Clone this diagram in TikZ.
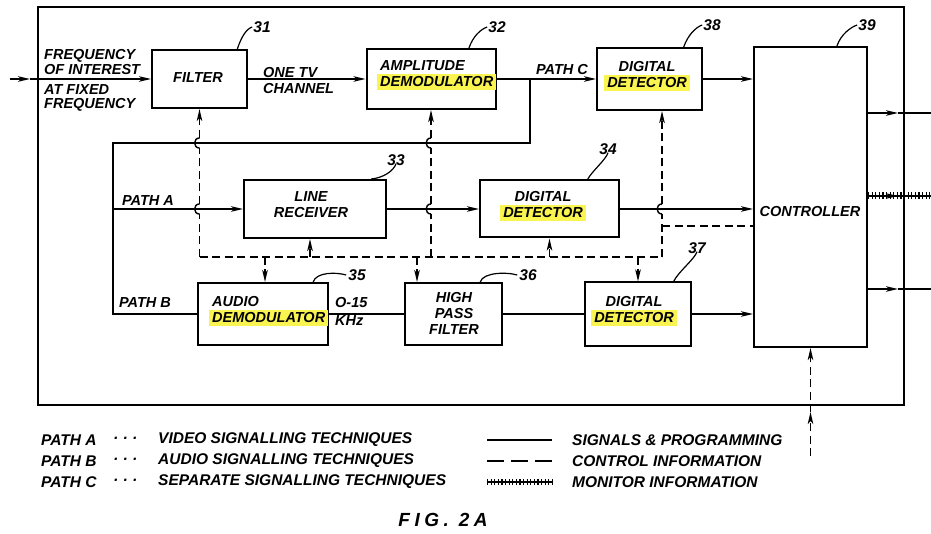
\documentclass[tikz,border=0pt]{standalone}
\usepackage{fontspec}
\setmainfont{Liberation Sans}
\usetikzlibrary{arrows.meta,calc}
\definecolor{hly}{RGB}{250,244,80}
\newsavebox\hlbox
\newcommand\hlt[1]{\sbox\hlbox{#1}\smash{\rlap{\kern-3pt\textcolor{hly}{\rule[-3.5pt]{\dimexpr\wd\hlbox+6pt\relax}{\dimexpr\ht\hlbox+6pt\relax}}}}\usebox\hlbox}
\begin{document}
\begin{tikzpicture}[x=1pt,y=-1pt,
  box/.style={draw, line width=2pt, inner sep=0pt},
  sig/.style={line width=1.4pt},
  ctl/.style={line width=1.7pt, dash pattern=on 8pt off 4.5pt},
  arr/.style={-{Stealth[length=12pt,width=5.5pt,inset=3pt]}},
  lbl/.style={font=\fontsize{14.5}{16}\selectfont\bfseries\itshape, align=center, inner sep=0pt},
  num/.style={font=\fontsize{15.5}{17}\selectfont\bfseries\itshape, inner sep=0pt},
  leg/.style={font=\fontsize{15.5}{18}\selectfont\bfseries\itshape, inner sep=0pt, anchor=west},
  lead/.style={line width=1.2pt},
  mon/.style={line width=1.2pt, postaction={draw, line width=7pt, dash pattern=on 1.1pt off 2.5pt}},
  hop/.style={line width=1.4pt}
]
\useasboundingbox (0,0) rectangle (931,534);
% frame
\node[draw, line width=1.6pt, minimum width=866pt, minimum height=398pt, inner sep=0pt] (frame) at (471,206) {};
% boxes
\node[box, minimum width=95pt, minimum height=58pt] (filter) at (199.5,79) {};
\node[box, minimum width=129pt, minimum height=60pt] (amp) at (431,79) {};
\node[box, minimum width=105pt, minimum height=62pt] (det38) at (649.5,79) {};
\node[box, minimum width=113pt, minimum height=300pt] (ctrl) at (810.5,197) {};
\node[box, minimum width=142pt, minimum height=58pt] (lr) at (315,209) {};
\node[box, minimum width=139pt, minimum height=57pt] (det34) at (549.5,209) {};
\node[box, minimum width=130pt, minimum height=62pt] (aud) at (263,314) {};
\node[box, minimum width=97pt, minimum height=62pt] (hpf) at (453.5,314) {};
\node[box, minimum width=106pt, minimum height=63pt] (det37) at (638,314) {};
% box texts
\node[lbl] (tFilter) at (198,78) {FILTER};
\node[lbl, align=left, anchor=west] (tAmp) at (380,74) {AMPLITUDE\\\hlt{DEMODULATOR}};
\node[lbl] (t38) at (647,74.5) {DIGITAL\\\hlt{DETECTOR}};
\node[lbl] (tCtrl) at (810,212) {CONTROLLER};
\node[lbl] (tLr) at (311,205) {LINE\\RECEIVER};
\node[lbl] (t34) at (543,205) {DIGITAL\\\hlt{DETECTOR}};
\node[lbl, align=left, anchor=west] (tAud) at (212,309.5) {AUDIO\\\hlt{DEMODULATOR}};
\node[lbl] (tHpf) at (454,313.5) {HIGH\\PASS\\FILTER};
\node[lbl] (t37) at (634,309.5) {DIGITAL\\\hlt{DETECTOR}};
% side labels
\node[lbl, align=left, anchor=west] (tIn1) at (44,62.5) {FREQUENCY\\[-1pt]OF INTEREST};
\node[lbl, align=left, anchor=west] (tIn2) at (44,98) {AT FIXED\\[-2pt]FREQUENCY};
\node[lbl, align=left, anchor=west] (tTv) at (263,81) {ONE TV\\CHANNEL};
\node[lbl] (tPC) at (562,70) {PATH C};
\node[lbl] (tPA) at (148,201) {PATH A};
\node[lbl] (tPB) at (145,303) {PATH B};
\node[lbl, align=left, anchor=west] (tKhz) at (335,311) {O-15\\[2pt]KHz};
% signal connectors
\coordinate (in) at (10,79); \coordinate (inm) at (30,79);
\draw[sig,arr] (in) -- (inm);
\draw[sig,arr] (inm) -- (filter.west);
\draw[sig,arr] (filter.east) -- (amp.west);
\draw[sig,arr] (amp.east) -- (det38.west);
\coordinate (bC) at (530,79); \coordinate (cC) at (530,143);
\coordinate (L1) at (113,143); \coordinate (LA) at (113,209); \coordinate (LB) at (113,314);
\draw[sig] (bC) -- (cC) -- (L1) -- (LB) -- (aud.west);
\draw[sig,arr] (LA) -- (lr.west);
\draw[sig,arr] (lr.east) -- (det34.west);
\draw[sig,arr] (det34.east) -- (det34.east -| ctrl.west);
\draw[sig,arr] (det38.east) -- (det38.east -| ctrl.west);
\draw[sig] (aud.east) -- (hpf.west);
\draw[sig] (hpf.east) -- (det37.west);
\draw[sig,arr] (det37.east) -- (det37.east -| ctrl.west);
% controller outputs
\coordinate (o1) at (931,113); \coordinate (o1m) at (898,113);
\coordinate (o2) at (931,196); \coordinate (o2m) at (898,196);
\coordinate (o3) at (931,289); \coordinate (o3m) at (898,289);
\draw[sig,arr] (ctrl.east |- o1) -- (o1m); \draw[sig] (o1m) -- (o1);
\draw[sig,arr] (ctrl.east |- o3) -- (o3m); \draw[sig] (o3m) -- (o3);
\draw[mon] (ctrl.east |- o2) -- (o2);
\draw[sig,arr] (ctrl.east |- o2) -- (o2m);
% bottom control input
\coordinate (cin) at (810.5,456); \coordinate (cinm) at (810.5,412);
\draw[ctl,arr] (cin) -- (cinm);
\draw[ctl,arr] (cinm) -- (ctrl.south);
% control network
\coordinate (vA) at (199.5,257); \coordinate (vB) at (431,257); \coordinate (vC) at (662,257);
\coordinate (k) at (662,226);
\draw[ctl] (vA) -- (vC);
\draw[ctl] (vA) -- (199.5,214);
\draw[hop] (199.5,214) .. controls (193,214) and (193,204) .. (199.5,204);
\draw[ctl] (199.5,204) -- (199.5,148);
\draw[hop] (199.5,148) .. controls (193,148) and (193,138) .. (199.5,138);
\draw[ctl,arr] (199.5,138) -- (filter.south);
\draw[ctl] (vB) -- (431,214);
\draw[hop] (431,214) .. controls (424.5,214) and (424.5,204) .. (431,204);
\draw[ctl] (431,204) -- (431,148);
\draw[hop] (431,148) .. controls (424.5,148) and (424.5,138) .. (431,138);
\draw[ctl,arr] (431,138) -- (amp.south);
\draw[ctl] (vC) -- (662,214);
\draw[hop] (662,214) .. controls (655.5,214) and (655.5,204) .. (662,204);
\draw[ctl,arr] (662,204) -- (det38.south -| vC);
\draw[ctl] (k) -- (k -| ctrl.west);
\coordinate (s1) at (310,257); \draw[ctl,arr] (s1) -- (s1 |- lr.south);
\draw[ctl,arr] (det34.south |- vA) -- (det34.south);
\coordinate (s3) at (265,257); \draw[ctl,arr] (s3) -- (s3 |- aud.north);
\coordinate (s4) at (417,257); \draw[ctl,arr] (s4) -- (s4 |- hpf.north);
\draw[ctl,arr] (det37.north |- vA) -- (det37.north);
% reference numbers
\node[num] (n31) at (262,27) {31};
\node[num] (n32) at (497,27) {32};
\node[num] (n38) at (712,25) {38};
\node[num] (n39) at (867,25) {39};
\node[num] (n33) at (396,160) {33};
\node[num] (n34) at (608,149) {34};
\node[num] (n35) at (357,275) {35};
\node[num] (n36) at (528,275) {36};
\node[num] (n37) at (697,248) {37};
\draw[lead] ($(filter.north west)!0.89!(filter.north east)$) .. controls +(4,-12) and +(-6,2) .. ([xshift=-1pt]n31.west);
\draw[lead] ($(amp.north west)!0.79!(amp.north east)$) .. controls +(4,-12) and +(-6,2) .. ([xshift=-1pt]n32.west);
\draw[lead] ($(det38.north west)!0.82!(det38.north east)$) .. controls +(4,-12) and +(-6,2) .. ([xshift=-1pt]n38.west);
\draw[lead] ($(ctrl.north west)!0.73!(ctrl.north east)$) .. controls +(4,-12) and +(-6,2) .. ([xshift=-1pt]n39.west);
\draw[lead] ($(lr.north west)!0.89!(lr.north east)$) .. controls +(12,-1) and +(-2,7) .. ([yshift=2pt]n33.south);
\draw[lead] ($(det34.north west)!0.77!(det34.north east)$) .. controls +(4,-8) and +(-2,7) .. ([yshift=2pt]n34.south);
\draw[lead] ($(det37.north west)!0.83!(det37.north east)$) .. controls +(4,-9) and +(-2,7) .. ([yshift=2pt]n37.south);
\draw[lead] ($(aud.north west)!0.88!(aud.north east)$) .. controls +(3,-10) and +(-10,-3) .. ([xshift=-2pt]n35.west);
\draw[lead] ($(hpf.north west)!0.77!(hpf.north east)$) .. controls +(3,-10) and +(-10,-3) .. ([xshift=-2pt]n36.west);
% legend
\node[leg] (pa) at (41,440) {PATH A};
\node[leg] (pb) at (41,461) {PATH B};
\node[leg] (pc) at (41,482) {PATH C};
\node[leg] (da) at (113,440) {· · ·};
\node[leg] (db) at (113,461) {· · ·};
\node[leg] (dc) at (113,482) {· · ·};
\node[leg] (ea) at (158,440) {VIDEO SIGNALLING TECHNIQUES};
\node[leg] (eb) at (158,461) {AUDIO SIGNALLING TECHNIQUES};
\node[leg] (ec) at (158,482) {SEPARATE SIGNALLING TECHNIQUES};
\coordinate (l1a) at (487,440); \coordinate (l1b) at (552,440);
\coordinate (l2a) at (487,461); \coordinate (l2b) at (552,461);
\coordinate (l3a) at (487,482); \coordinate (l3b) at (552,482);
\draw[sig] (l1a) -- (l1b);
\draw[line width=1.5pt, dash pattern=on 17pt off 7pt] (l2a) -- (l2b);
\draw[line width=1.2pt, postaction={draw, line width=6pt, dash pattern=on 1.1pt off 2.5pt}] (l3a) -- (l3b);
\node[leg] (ga) at (572,440) {SIGNALS \& PROGRAMMING};
\node[leg] (gb) at (572,461) {CONTROL INFORMATION};
\node[leg] (gc) at (572,482) {MONITOR INFORMATION};
\node[inner sep=0pt, font=\fontsize{19}{20}\selectfont\bfseries\itshape\addfontfeatures{LetterSpace=24}] (fig) at (443,520) {FIG. 2A};
\end{tikzpicture}
\end{document}
